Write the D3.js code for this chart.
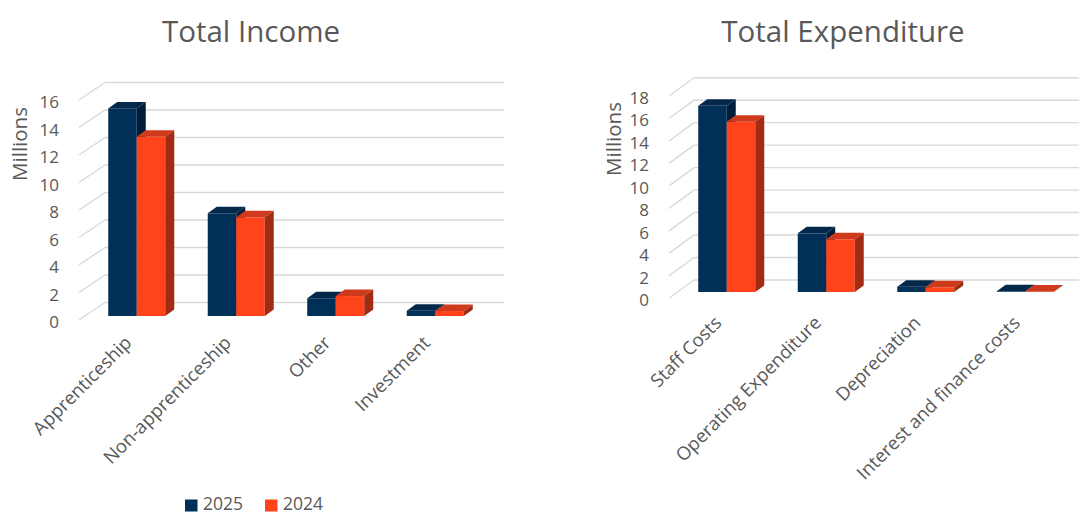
<!DOCTYPE html>
<html>
<head>
<meta charset="utf-8">
<script src="https://cdn.jsdelivr.net/npm/d3@7"></script>
<style>
  html, body { margin: 0; padding: 0; background: #ffffff; }
  svg { display: block; }
  text { font-family: "Open Sans", "Noto Sans", sans-serif; fill: #595959; }
</style>
</head>
<body>
<svg id="chart" width="1079" height="515"></svg>
<script>
// ---------- data ----------
const seriesNames = ["2025", "2024"];

const incomeCategories = ["Apprenticeship", "Non-apprenticeship", "Other", "Investment"];
const income2025 = [15.1, 7.47, 1.29, 0.39];
const income2024 = [13.04, 7.18, 1.45, 0.36];
const incomeTicks = [0, 2, 4, 6, 8, 10, 12, 14, 16];

const expCategories = ["Staff Costs", "Operating Expenditure", "Depreciation", "Interest and finance costs"];
const exp2025 = [16.57, 5.22, 0.47, 0.06];
const exp2024 = [15.15, 4.69, 0.42, 0.05];
const expTicks = [0, 2, 4, 6, 8, 10, 12, 14, 16, 18];

// ---------- styles ----------
const colors = {
  "2025": { front: "#003057", top: "#04284a", side: "#001d39" },
  "2024": { front: "#ff441b", top: "#cf3a1c", side: "#a12b13" }
};

const svg = d3.select("#chart");

function drawChart(cfg) {
  const g = svg.append("g");
  const x = d3.scaleBand().domain(cfg.categories).range(cfg.xRange)
    .paddingInner(0.427).paddingOuter(0.2135);
  const xs = d3.scaleBand().domain(seriesNames).range([0, x.bandwidth()]);
  const y = d3.scaleLinear().domain([0, d3.max(cfg.ticks)]).range(cfg.yRange);
  const [dX, dY] = cfg.depth;

  // title
  g.append("text").attr("x", cfg.titleX).attr("y", 30)
    .attr("text-anchor", "middle").attr("dominant-baseline", "central")
    .style("font-size", "29.5px").text(cfg.title);

  // y axis title
  g.append("text")
    .attr("transform", `translate(${cfg.yTitle[0]},${cfg.yTitle[1]}) rotate(-90)`)
    .attr("text-anchor", "middle").attr("dominant-baseline", "central")
    .style("font-size", "20.5px").text("Millions");

  // gridlines: side wall diagonals + back wall horizontals
  const grid = g.append("g").attr("stroke", "#d9d9d9").attr("stroke-width", 1.4).attr("fill", "none");
  cfg.ticks.forEach(t => {
    const yf = y(t);
    grid.append("line").attr("x1", cfg.xRange[0] - 1).attr("y1", yf)
      .attr("x2", cfg.xRange[0] - 1 + dX).attr("y2", yf + dY);
    grid.append("line").attr("x1", cfg.xRange[0] - 1 + dX).attr("y1", yf + dY)
      .attr("x2", cfg.xRange[1] + dX).attr("y2", yf + dY);
  });

  // tick labels
  g.append("g").selectAll("text").data(cfg.ticks).join("text")
    .attr("x", cfg.xRange[0] - 21).attr("y", d => y(d) + 1.5)
    .attr("text-anchor", "end").attr("dominant-baseline", "central")
    .style("font-size", "17px").text(d => d);

  // bars
  const [ox, oy] = cfg.barOffset;
  const [bx, by] = cfg.barDepth;
  const bars = g.append("g");
  cfg.categories.forEach((c, i) => {
    seriesNames.forEach(s => {
      const v = cfg.values[s][i];
      const x0 = x(c) + xs(s) + ox;
      const w = xs.bandwidth();
      const yt = y(v) + oy;
      const yb = y(0) + oy;
      const col = colors[s];
      bars.append("rect").attr("x", x0).attr("y", yt).attr("width", w).attr("height", Math.max(0, yb - yt))
        .attr("fill", col.front);
      bars.append("path").attr("fill", col.top)
        .attr("d", `M${x0},${yt}L${x0 + bx},${yt + by}L${x0 + w + bx},${yt + by}L${x0 + w},${yt}Z`);
      bars.append("path").attr("fill", col.side)
        .attr("d", `M${x0 + w},${yt}L${x0 + w + bx},${yt + by}L${x0 + w + bx},${yb + by}L${x0 + w},${yb}Z`);
    });
  });

  // category labels
  g.append("g").selectAll("text").data(cfg.categories).join("text")
    .attr("transform", d => `translate(${x(d) + x.bandwidth() / 2 + cfg.labelDx},${cfg.labelY}) rotate(-45)`)
    .attr("text-anchor", "end")
    .style("font-size", "18.5px").text(d => d);
}

drawChart({
  title: "Total Income", titleX: 251, yTitle: [19, 144],
  categories: incomeCategories,
  values: { "2025": income2025, "2024": income2024 },
  ticks: incomeTicks,
  xRange: [80, 478], yRange: [320, 100],
  depth: [26, -17.5], barOffset: [7, -4], barDepth: [9, -6.5],
  labelDx: 3, labelY: 344
});

drawChart({
  title: "Total Expenditure", titleX: 843, yTitle: [613, 139],
  categories: expCategories,
  values: { "2025": exp2025, "2024": exp2024 },
  ticks: expTicks,
  xRange: [670, 1068], yRange: [298.3, 96],
  depth: [25, -18.3], barOffset: [7, -6.3], barDepth: [9, -6.5],
  labelDx: 3, labelY: 324
});

// legend
const legend = svg.append("g");
const legendX = d3.scalePoint().domain(seriesNames).range([185, 265]);
seriesNames.forEach(s => {
  legend.append("rect").attr("x", legendX(s)).attr("y", 499.5).attr("width", 12.5).attr("height", 12)
    .attr("fill", colors[s].front);
  legend.append("text").attr("x", legendX(s) + 18).attr("y", 509.5)
    .style("font-size", "17.5px").text(s);
});
</script>
</body>
</html>
